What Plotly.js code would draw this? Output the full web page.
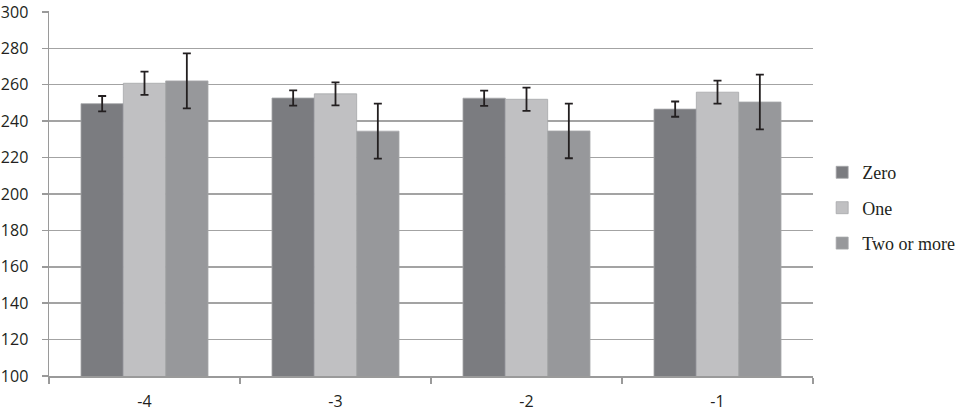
<!DOCTYPE html>
<html>
<head>
<meta charset="utf-8">
<script src="https://cdn.plot.ly/plotly-3.0.1.min.js"></script>
<style>html,body{margin:0;padding:0;background:#fff;}#chart{width:965px;height:415px;}</style>
</head>
<body>
<div id="chart"></div>
<script>
const categories = ["-4", "-3", "-2", "-1"];
const seriesNames = ["Zero", "One", "Two or more"];
const zeroValues = [249.6, 252.7, 252.6, 246.6];
const zeroErrors = [4.2, 4.2, 4.2, 4.2];
const oneValues = [260.8, 255.0, 252.0, 255.9];
const oneErrors = [6.4, 6.3, 6.4, 6.3];
const twoValues = [262.1, 234.5, 234.6, 250.5];
const twoErrors = [15.1, 15.1, 15.0, 15.0];
const yTicks = [100, 120, 140, 160, 180, 200, 220, 240, 260, 280, 300];

const colors = ["#7b7c80", "#c0c0c2", "#97989b"];
const values = [zeroValues, oneValues, twoValues];
const errors = [zeroErrors, oneErrors, twoErrors];

const traces = seriesNames.map((name, i) => ({
  type: "bar",
  name: name,
  x: categories,
  y: values[i],
  legendgroup: "g" + i,
  marker: { color: colors[i], line: { color: "#a6a7aa", width: 0.8 } },
  error_y: { type: "data", array: errors[i], visible: true, color: "#231f20", thickness: 1.8, width: 4 }
}));

const tickFont = { family: "'Open Sans', 'Liberation Sans', sans-serif", size: 16, color: "#231f20" };

const layout = {
  width: 965, height: 415,
  margin: { l: 49, r: 152, t: 11, b: 39, autoexpand: false },
  paper_bgcolor: "#ffffff", plot_bgcolor: "#ffffff",
  barmode: "group", bargap: 0.335, bargroupgap: 0,
  font: tickFont,
  xaxis: {
    type: "category", showline: true, linecolor: "#9a9a9a", linewidth: 1.5,
    ticks: "outside", tickson: "boundaries", ticklen: 6, tickcolor: "#9a9a9a", tickwidth: 1.5,
    showgrid: false, ticklabelstandoff: 10, automargin: false,
    tickfont: tickFont
  },
  yaxis: {
    range: [100, 300.5], tickvals: yTicks, ticktext: yTicks.map(String),
    showline: true, linecolor: "#9a9a9a", linewidth: 1.5,
    ticks: "outside", ticklen: 6, tickcolor: "#9a9a9a", tickwidth: 1.5,
    showgrid: true, gridcolor: "#a3a3a3", gridwidth: 1.5, zeroline: false,
    ticklabelstandoff: 10, automargin: false, ticklabeloverflow: "allow",
    tickfont: tickFont
  },
  showlegend: true,
  legend: {
    x: 1.012, xanchor: "left", y: 0.46, yanchor: "middle",
    traceorder: "grouped", tracegroupgap: 9, itemwidth: 30,
    font: { family: "'Liberation Serif', 'Times New Roman', serif", size: 18, color: "#231f20" },
    bgcolor: "rgba(0,0,0,0)"
  }
};

Plotly.newPlot("chart", traces, layout, { displayModeBar: false, staticPlot: true });
</script>
</body>
</html>
